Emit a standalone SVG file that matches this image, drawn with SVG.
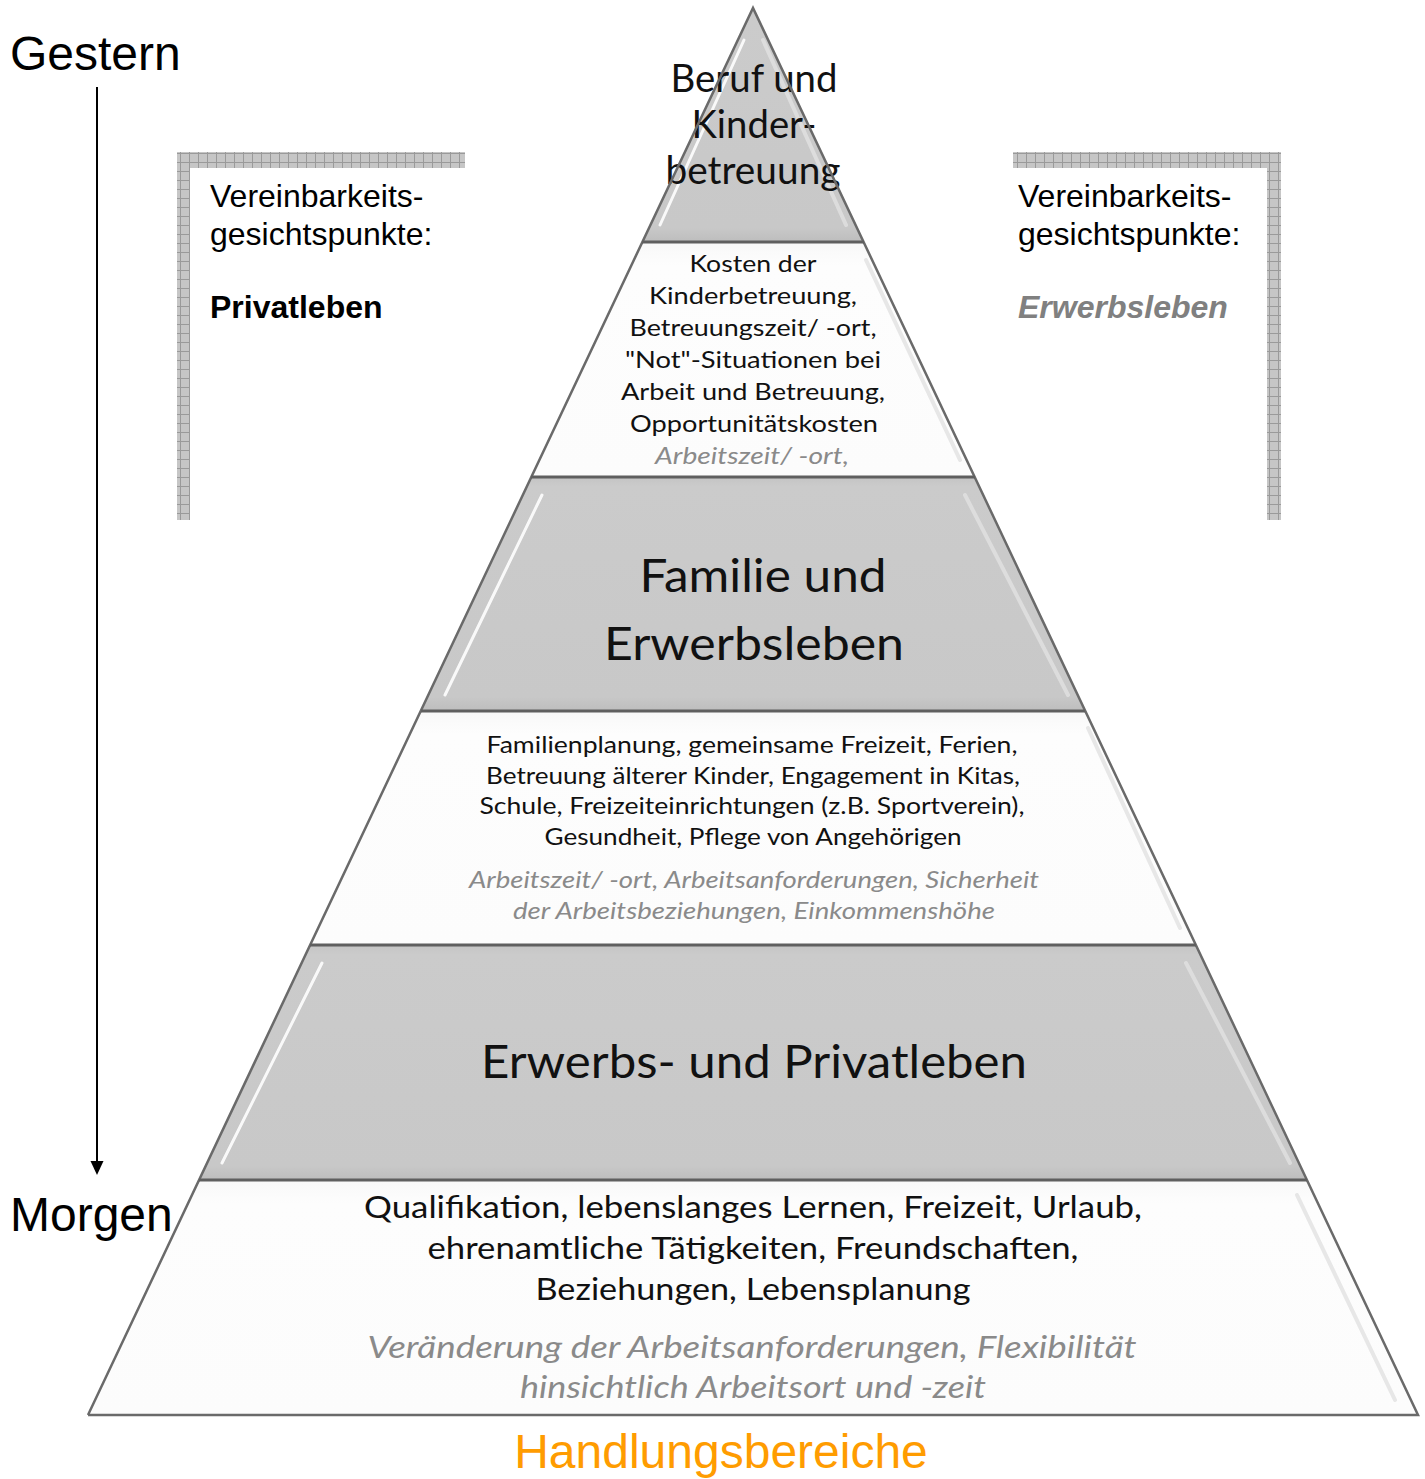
<svg xmlns="http://www.w3.org/2000/svg" width="1425" height="1479" viewBox="0 0 1425 1479">
<defs>
<pattern id="grid" width="9" height="9" patternUnits="userSpaceOnUse">
<rect width="9" height="9" fill="#c6c6c6"/>
<path d="M0 0.5H9M0.5 0V9" stroke="#9a9a9a" stroke-width="1"/>
</pattern>
<linearGradient id="gb" x1="0" y1="0" x2="0" y2="1">
<stop offset="0" stop-color="#c4c4c4"/>
<stop offset="0.04" stop-color="#cbcbcb"/>
<stop offset="0.94" stop-color="#c8c8c8"/>
<stop offset="1" stop-color="#bdbdbd"/>
</linearGradient>
<linearGradient id="wb" x1="0" y1="0" x2="0" y2="1">
<stop offset="0" stop-color="#f8f8f8"/>
<stop offset="0.1" stop-color="#fdfdfd"/>
<stop offset="1" stop-color="#fcfcfc"/>
</linearGradient>
<style>
.edge{fill:none;stroke:#6a6a6a;stroke-width:2.5}
.sep{stroke:#5f5f5f;stroke-width:3}
.hl{stroke:#ffffff;stroke-width:3;stroke-linecap:round;opacity:0.9}
.hr{stroke:#e2e2e2;stroke-width:4;stroke-linecap:round;opacity:0.8}
.t{font-family:Lato,"Open Sans","Noto Sans",sans-serif;fill:#111;text-anchor:middle}
.g{font-family:Lato,"Open Sans","Noto Sans",sans-serif;fill:#8a8a8a;font-style:italic;text-anchor:middle}
.a{font-family:"Liberation Sans",Arial,sans-serif;fill:#000}
</style>
</defs>
<rect width="1425" height="1479" fill="#ffffff"/>

<g id="bracket-left">
<rect x="177" y="152" width="288" height="16" fill="url(#grid)"/>
<rect x="177" y="152" width="13" height="368" fill="url(#grid)"/>
<text class="a" x="210" y="207" font-size="32">Vereinbarkeits-</text>
<text class="a" x="210" y="245" font-size="32">gesichtspunkte:</text>
<text class="a" x="210" y="318" font-size="32" font-weight="bold">Privatleben</text>
</g>
<g id="bracket-right">
<rect x="1013" y="152" width="268" height="16" fill="url(#grid)"/>
<rect x="1267" y="152" width="14" height="368" fill="url(#grid)"/>
<text class="a" x="1018" y="207" font-size="32">Vereinbarkeits-</text>
<text class="a" x="1018" y="245" font-size="32">gesichtspunkte:</text>
<text class="a" x="1018" y="318" font-size="32" font-weight="bold" font-style="italic" style="fill:#808080">Erwerbsleben</text>
</g>

<g id="timeline">
<text class="a" x="10" y="70" font-size="48">Gestern</text>
<text class="a" x="10" y="1231" font-size="48">Morgen</text>
</g>

<g id="band1">
<polygon points="753,8 642,242 864,242" fill="url(#gb)"/>
<line class="hl" x1="744" y1="40" x2="660" y2="225" opacity="0.7"/>
<line class="hr" x1="763" y1="40" x2="846" y2="225"/>
<text class="t" x="754" y="92" font-size="38" textLength="167" lengthAdjust="spacingAndGlyphs">Beruf und</text>
<text class="t" x="754" y="138" font-size="38" textLength="125" lengthAdjust="spacingAndGlyphs">Kinder-</text>
<text class="t" x="753" y="184" font-size="38" textLength="175" lengthAdjust="spacingAndGlyphs">betreuung</text>
</g>
<g id="band2">
<polygon points="642,242 864,242 975,477 531,477" fill="url(#wb)"/>
<line class="hr" x1="866" y1="260" x2="960" y2="460" opacity="0.4"/>
<text class="t" x="753" y="272" font-size="24" textLength="127" lengthAdjust="spacingAndGlyphs">Kosten der</text>
<text class="t" x="753" y="304" font-size="24" textLength="208" lengthAdjust="spacingAndGlyphs">Kinderbetreuung,</text>
<text class="t" x="753" y="336" font-size="24" textLength="247" lengthAdjust="spacingAndGlyphs">Betreuungszeit/ -ort,</text>
<text class="t" x="753" y="368" font-size="24" textLength="256" lengthAdjust="spacingAndGlyphs">"Not"-Situationen bei</text>
<text class="t" x="753" y="400" font-size="24" textLength="264" lengthAdjust="spacingAndGlyphs">Arbeit und Betreuung,</text>
<text class="t" x="754" y="432" font-size="24" textLength="248" lengthAdjust="spacingAndGlyphs">Opportunitätskosten</text>
<text class="g" x="752" y="464" font-size="24" textLength="194" lengthAdjust="spacingAndGlyphs">Arbeitszeit/ -ort,</text>
</g>
<g id="band3">
<polygon points="531,477 975,477 1085,711 421,711" fill="url(#gb)"/>
<line class="hl" x1="542" y1="495" x2="445" y2="695"/>
<line class="hr" x1="965" y1="495" x2="1068" y2="695"/>
<text class="t" x="763" y="592" font-size="46" textLength="247" lengthAdjust="spacingAndGlyphs">Familie und</text>
<text class="t" x="754" y="660" font-size="46" textLength="300" lengthAdjust="spacingAndGlyphs">Erwerbsleben</text>
</g>
<g id="band4">
<polygon points="421,711 1085,711 1196,945 310,945" fill="url(#wb)"/>
<line class="hr" x1="1088" y1="728" x2="1180" y2="928" opacity="0.4"/>
<text class="t" x="752" y="753" font-size="23" textLength="531" lengthAdjust="spacingAndGlyphs">Familienplanung, gemeinsame Freizeit, Ferien,</text>
<text class="t" x="753" y="784" font-size="23" textLength="534" lengthAdjust="spacingAndGlyphs">Betreuung älterer Kinder, Engagement in Kitas,</text>
<text class="t" x="752" y="814" font-size="23" textLength="545" lengthAdjust="spacingAndGlyphs">Schule, Freizeiteinrichtungen (z.B. Sportverein),</text>
<text class="t" x="753" y="845" font-size="23" textLength="417" lengthAdjust="spacingAndGlyphs">Gesundheit, Pflege von Angehörigen</text>
<text class="g" x="754" y="888" font-size="23" textLength="570" lengthAdjust="spacingAndGlyphs">Arbeitszeit/ -ort, Arbeitsanforderungen, Sicherheit</text>
<text class="g" x="754" y="919" font-size="23" textLength="482" lengthAdjust="spacingAndGlyphs">der Arbeitsbeziehungen, Einkommenshöhe</text>
</g>
<g id="band5">
<polygon points="310,945 1196,945 1307,1180 199,1180" fill="url(#gb)"/>
<line class="hl" x1="322" y1="963" x2="222" y2="1163"/>
<line class="hr" x1="1186" y1="963" x2="1290" y2="1163"/>
<text class="t" x="754" y="1078" font-size="46" textLength="546" lengthAdjust="spacingAndGlyphs">Erwerbs- und Privatleben</text>
</g>
<g id="band6">
<polygon points="199,1180 1307,1180 1418,1415 88,1415" fill="url(#wb)"/>
<line class="hr" x1="1297" y1="1195" x2="1395" y2="1400" opacity="0.4"/>
<text class="t" x="753" y="1218" font-size="31" textLength="778" lengthAdjust="spacingAndGlyphs">Qualifikation, lebenslanges Lernen, Freizeit, Urlaub,</text>
<text class="t" x="753" y="1259" font-size="31" textLength="651" lengthAdjust="spacingAndGlyphs">ehrenamtliche Tätigkeiten, Freundschaften,</text>
<text class="t" x="753" y="1300" font-size="31" textLength="435" lengthAdjust="spacingAndGlyphs">Beziehungen, Lebensplanung</text>
<text class="g" x="752" y="1358" font-size="31" textLength="769" lengthAdjust="spacingAndGlyphs">Veränderung der Arbeitsanforderungen, Flexibilität</text>
<text class="g" x="753" y="1398" font-size="31" textLength="466" lengthAdjust="spacingAndGlyphs">hinsichtlich Arbeitsort und -zeit</text>
</g>

<g id="connectors">
<line x1="97" y1="87" x2="97" y2="1163" stroke="#000" stroke-width="2"/>
<polygon points="90.5,1161 103.5,1161 97,1175" fill="#000"/>
<polyline class="edge" points="88,1415 753,8 1418,1415 88,1415"/>
<line class="sep" x1="642" y1="242" x2="864" y2="242"/>
<line class="sep" x1="531" y1="477" x2="975" y2="477"/>
<line class="sep" x1="421" y1="711" x2="1085" y2="711"/>
<line class="sep" x1="310" y1="945" x2="1196" y2="945"/>
<line class="sep" x1="199" y1="1180" x2="1307" y2="1180"/>
</g>

<g id="footer">
<text x="721" y="1468" font-family="'Liberation Sans',Arial,sans-serif" font-size="48" fill="#ff9c00" text-anchor="middle">Handlungsbereiche</text>
</g>
</svg>
